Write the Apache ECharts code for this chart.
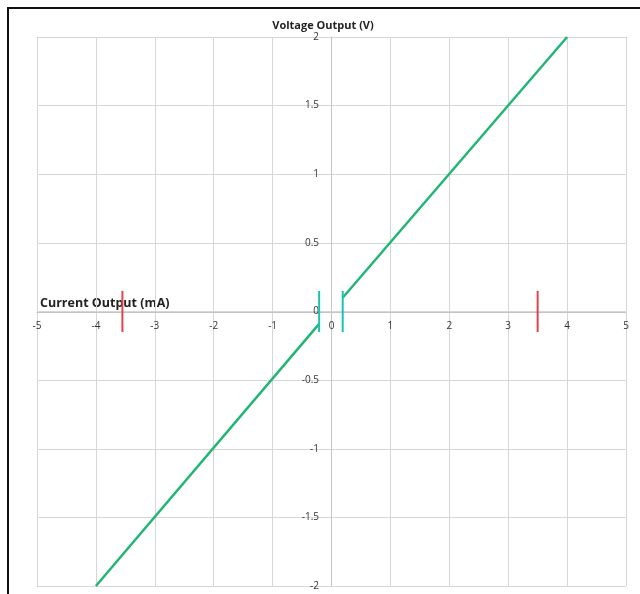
<!DOCTYPE html>
<html>
<head>
<meta charset="utf-8">
<script src="https://cdn.jsdelivr.net/npm/echarts@6/dist/echarts.min.js"></script>
<style>
  html, body { margin: 0; padding: 0; background: #fff; }
  #chart { width: 640px; height: 594px; }
</style>
</head>
<body>
<div id="chart"></div>
<script>
// axis ranges
const xTicks = [-5, -4, -3, -2, -1, 0, 1, 2, 3, 4, 5];
const yTicks = [-2, -1.5, -1, -0.5, 0, 0.5, 1, 1.5, 2];

// green transfer line, split around zero
const lineNeg = [[-4, -2], [-0.21, -0.09]];
const linePos = [[0.19, 0.1], [4, 2]];

// teal markers near zero
const tealLeft = [[-0.21, 0.15], [-0.21, -0.15]];
const tealRight = [[0.19, 0.15], [0.19, -0.15]];

// red markers
const redLeft = [[-3.55, 0.15], [-3.55, -0.15]];
const redRight = [[3.5, 0.15], [3.5, -0.15]];

const FONT = '"Open Sans", sans-serif';
const gridColor = '#d6d6d6';

const seg = (data, color, width) => ({
  type: 'line',
  data: data,
  symbol: 'none',
  silent: true,
  lineStyle: { color: color, width: width },
});

const chart = echarts.init(document.getElementById('chart'));
chart.setOption({
  animation: false,
  backgroundColor: '#fff',
  grid: { left: 37, right: 14, top: 37, bottom: 8 },
  title: {
    text: 'Voltage Output (V)',
    left: 318,
    top: 15,
    textAlign: 'center',
    textStyle: { fontFamily: FONT, fontSize: 11, fontWeight: 'bold', color: '#222' },
  },
  graphic: [
    {
      type: 'rect',
      shape: { x: 8, y: 8, width: 700, height: 700 },
      style: { fill: 'none', stroke: '#111', lineWidth: 2 },
      silent: true,
    },
    {
      type: 'text',
      left: 40,
      top: 297,
      style: {
        text: 'Current Output (mA)',
        font: 'bold 12.5px ' + FONT,
        fill: '#222',
      },
    },
  ],
  xAxis: {
    type: 'value',
    min: xTicks[0],
    max: xTicks[xTicks.length - 1],
    interval: 1,
    position: 'bottom',
    offset: -274,
    axisLine: { onZero: false, lineStyle: { color: '#c4c4c4', width: 1 } },
    axisTick: { show: false },
    axisLabel: { fontFamily: FONT, fontSize: 10, color: '#333', margin: 9, showMinLabel: true, showMaxLabel: true },
    splitLine: { show: true, lineStyle: { color: gridColor, width: 1 } },
  },
  yAxis: {
    type: 'value',
    min: yTicks[0],
    max: yTicks[yTicks.length - 1],
    interval: 0.5,
    position: 'left',
    offset: -294,
    axisLine: { onZero: false, lineStyle: { color: '#c4c4c4', width: 1 } },
    axisTick: { show: false },
    axisLabel: { fontFamily: FONT, fontSize: 10, color: '#333', margin: 12, showMinLabel: true, showMaxLabel: true },
    splitLine: { show: true, lineStyle: { color: gridColor, width: 1 } },
  },
  series: [
    seg(lineNeg, '#22b576', 2.5),
    seg(linePos, '#22b576', 2.5),
    seg(tealLeft, '#19c3b3', 2),
    seg(tealRight, '#19c3b3', 2),
    seg(redLeft, '#e2434c', 2),
    seg(redRight, '#e2434c', 2),
  ],
});
</script>
</body>
</html>
